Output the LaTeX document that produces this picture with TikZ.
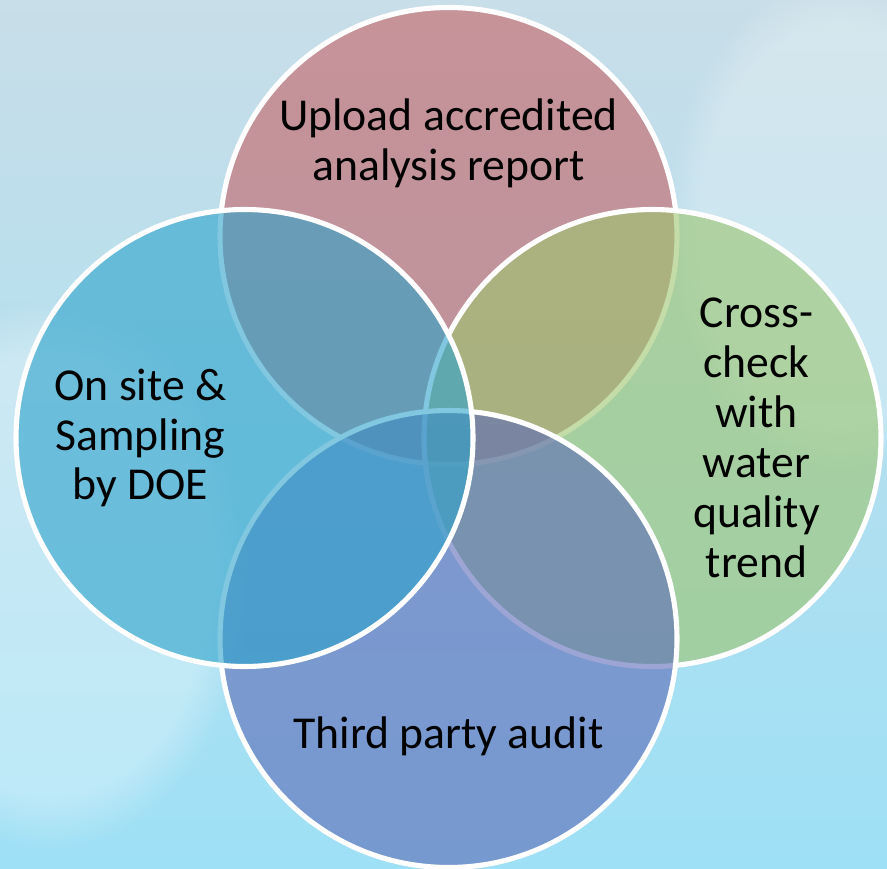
\documentclass[tikz,border=0pt]{standalone}
\usepackage{fontspec}
\setmainfont{Carlito}
\usepackage{tikz}
\usetikzlibrary{positioning,fadings}

\definecolor{skytop}{RGB}{200,222,232}
\definecolor{skymid}{RGB}{178,222,238}
\definecolor{skybot}{RGB}{158,224,246}
\definecolor{rose}{RGB}{197,97,100}
\definecolor{leaf}{RGB}{157,197,110}
\definecolor{aqua}{RGB}{45,163,203}
\definecolor{dusk}{RGB}{92,106,184}

\tikzset{
    venn/.style={
           circle,
           draw=white, line width=2.9pt,
           fill opacity=0.6,
           minimum size=9.14cm,
           inner sep=0pt
           },
    words/.style={
           align=center,
           text=black,
           font=\fontsize{26}{28.4}\selectfont
           }
}

\begin{document}
\begin{tikzpicture}
   % sky behind the diagram
   \useasboundingbox (0,0) rectangle (17.74,-17.38);
   \shade[top color=skytop, middle color=skymid, bottom color=skybot]
      (0,0) rectangle (17.74,-17.38);
   \fill[white, opacity=0.3, path fading=circle with fuzzy edge 20 percent]
      (1.0,-11.5) ellipse (4cm and 5.5cm);
   \fill[white, opacity=0.25, path fading=circle with fuzzy edge 20 percent]
      (16.8,-4.5) ellipse (3.5cm and 5cm);

   % the four circles, back to front
   \coordinate (mid) at (8.97,-8.76);
   \node[venn, fill=rose] (upload) at ([yshift=4.04cm]mid) {};
   \node[venn, fill=leaf] (cross) at ([xshift=4.08cm]mid) {};
   \node[venn, fill=dusk] (audit) at ([yshift=-4.02cm]mid) {};
   \node[venn, fill=aqua] (onsite) at ([xshift=-4.08cm]mid) {};

   \node[words] (uploadtxt) at ([yshift=1.86cm]upload.center)
      {Upload accredited\\analysis report};
   \node[words] (crosstxt) at ([xshift=2.08cm]cross.center)
      {Cross-\\check\\with\\water\\quality\\trend};
   \node[words] (audittxt) at ([yshift=-1.94cm]audit.center)
      {Third party audit};
   \node[words] (onsitetxt) at ([xshift=-2.08cm]onsite.center)
      {On site \&\\Sampling\\by DOE};
\end{tikzpicture}
\end{document}
